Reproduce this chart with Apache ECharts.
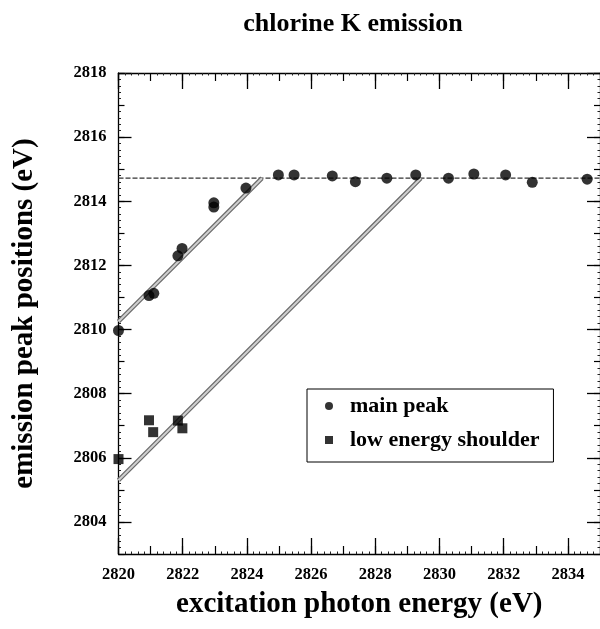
<!DOCTYPE html>
<html>
<head>
<meta charset="utf-8">
<script src="https://cdn.jsdelivr.net/npm/echarts@6/dist/echarts.min.js"></script>
<style>
  html, body { margin: 0; padding: 0; background: #fff; }
  #chart { width: 600px; height: 629px; }
</style>
</head>
<body>
<div id="chart"></div>
<script>
// Chlorine K emission: peak positions versus excitation photon energy
const xRange = [2820, 2835];
const yRange = [2803, 2818];
const xTickLabels = [2820, 2822, 2824, 2826, 2828, 2830, 2832, 2834];
const yTickLabels = [2804, 2806, 2808, 2810, 2812, 2814, 2816, 2818];

// main emission peak (excitation eV, emission eV)
const mainPeakX = [2820.0, 2820.95, 2821.1, 2821.85, 2821.98, 2822.97, 2822.97, 2823.97,
                   2824.98, 2825.47, 2826.66, 2827.38, 2828.36, 2829.26, 2830.28,
                   2831.07, 2832.06, 2832.89, 2834.6];
const mainPeakY = [2809.97, 2811.06, 2811.13, 2812.3, 2812.53, 2813.95, 2813.82, 2814.41,
                   2814.82, 2814.82, 2814.79, 2814.61, 2814.72, 2814.82, 2814.72,
                   2814.85, 2814.82, 2814.59, 2814.69];

// low energy shoulder
const shoulderX = [2820.0, 2820.95, 2821.08, 2821.85, 2821.99];
const shoulderY = [2805.96, 2807.17, 2806.8, 2807.16, 2806.92];

// guide lines: constant emission level and two unit-slope lines
const plateauLevel = 2814.72;
const guideUpper = [[2820, 2810.25], [2824.47, 2814.72]];
const guideLower = [[2820, 2805.3], [2829.42, 2814.72]];

const serif = '"Liberation Serif", "Times New Roman", serif';

function zipPoints(xs, ys) { return xs.map((x, i) => [x, ys[i]]); }

// each side gets a fine-ticked axis (1 eV ticks + 0.2 eV minor) and a major-tick axis
function fineAxis(range, position, len) {
  return {
    type: 'value', min: range[0], max: range[1], interval: 1, position: position,
    axisLine: { show: true, onZero: false, lineStyle: { color: '#000', width: 1.3 } },
    axisTick: { show: true, inside: true, length: len, lineStyle: { color: '#000', width: 1.2 } },
    minorTick: { show: true, splitNumber: 5, length: 2.5, lineStyle: { color: '#222', width: 1 } },
    axisLabel: { show: false },
    splitLine: { show: false }, minorSplitLine: { show: false }
  };
}
function majorAxis(range, position, ticks, len, withLabels) {
  return {
    type: 'value', min: range[0], max: range[1], position: position,
    axisLine: { show: false, onZero: false },
    axisTick: { show: true, inside: true, length: len, customValues: ticks,
                lineStyle: { color: '#000', width: 1.3 } },
    axisLabel: withLabels ? {
      show: true, customValues: ticks, margin: 12,
      formatter: v => String(v),
      color: '#000', fontFamily: serif, fontWeight: 'bold', fontSize: 16.5
    } : { show: false },
    splitLine: { show: false }
  };
}

const xAxes = [
  Object.assign(majorAxis(xRange, 'bottom', xTickLabels, 16, true), {
    name: 'excitation photon energy (eV)', nameLocation: 'middle', nameGap: 36,
    nameTextStyle: { color: '#000', fontFamily: serif, fontWeight: 'bold', fontSize: 29 }
  }),
  fineAxis(xRange, 'bottom', 8),
  fineAxis(xRange, 'top', 8),
  majorAxis(xRange, 'top', xTickLabels, 16, false)
];
const yAxes = [
  Object.assign(majorAxis(yRange, 'left', yTickLabels, 13, true), {
    name: 'emission peak positions (eV)', nameLocation: 'middle', nameGap: 79,
    nameTextStyle: { color: '#000', fontFamily: serif, fontWeight: 'bold', fontSize: 29 }
  }),
  fineAxis(yRange, 'left', 6),
  fineAxis(yRange, 'right', 6),
  majorAxis(yRange, 'right', yTickLabels, 13, false)
];

function bandLine(points, z) {
  return [
    { type: 'line', data: points, symbol: 'none', silent: true, z: z,
      lineStyle: { color: '#6a6a6a', width: 4.5 } },
    { type: 'line', data: points, symbol: 'none', silent: true, z: z + 1,
      lineStyle: { color: '#cfcfcf', width: 2 } }
  ];
}

const chart = echarts.init(document.getElementById('chart'), null, { renderer: 'canvas' });
chart.setOption({
  animation: false,
  backgroundColor: '#fff',
  title: {
    text: 'chlorine K emission', left: 348, top: 6, textAlign: 'center',
    textStyle: { color: '#000', fontFamily: serif, fontWeight: 'bold', fontSize: 26 }
  },
  grid: { left: 118.5, top: 73, width: 484.8, height: 481, containLabel: false },
  xAxis: xAxes,
  yAxis: yAxes,
  legend: {
    left: 307, top: 389, orient: 'vertical',
    padding: [6, 14, 11, 18], itemGap: 12, itemWidth: 8, itemHeight: 8,
    borderColor: '#000', borderWidth: 1, backgroundColor: '#fff',
    data: [
      { name: 'main peak', icon: 'circle' },
      { name: 'low energy shoulder', icon: 'rect' }
    ],
    textStyle: { color: '#000', fontFamily: serif, fontWeight: 'bold', fontSize: 22,
                 padding: [0, 0, 0, 12] }
  },
  series: [
    { type: 'line', data: [[xRange[0], plateauLevel], [xRange[1], plateauLevel]],
      symbol: 'none', silent: true, z: 1,
      lineStyle: { color: '#333', width: 1.2, type: [5, 2] } },
    ...bandLine(guideUpper, 2),
    ...bandLine(guideLower, 2),
    { name: 'main peak', type: 'scatter', symbol: 'circle', symbolSize: 11, z: 5,
      itemStyle: { color: '#000' }, data: zipPoints(mainPeakX, mainPeakY) },
    { name: 'low energy shoulder', type: 'scatter', symbol: 'rect', symbolSize: 10, z: 5,
      itemStyle: { color: '#000' }, data: zipPoints(shoulderX, shoulderY) }
  ]
});
</script>
</body>
</html>
